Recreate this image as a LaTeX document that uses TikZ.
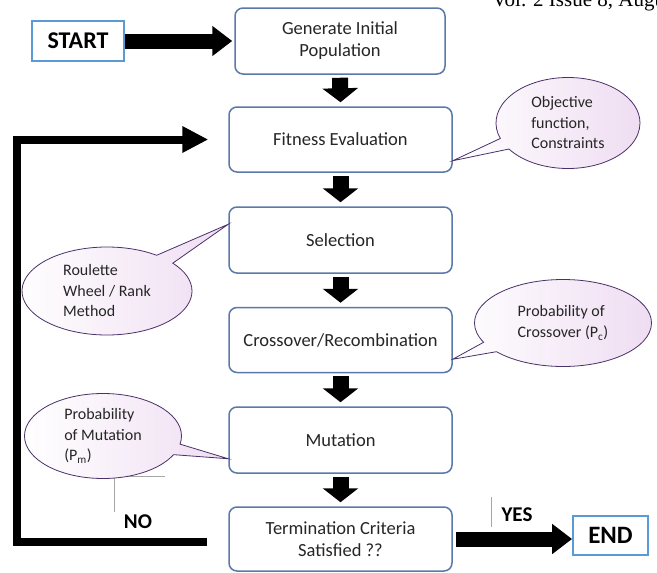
\documentclass[tikz,border=0pt]{standalone}
\usepackage{fontspec}
\setmainfont{Carlito}
\newfontfamily\timesf{Liberation Serif}
\usetikzlibrary{shapes.callouts,arrows.meta,calc}
\definecolor{boxblue}{HTML}{5A78A8}
\definecolor{termblue}{HTML}{5B9BD5}
\definecolor{callpurple}{HTML}{4A3068}
\definecolor{calllav}{HTML}{EFDDF2}
\begin{document}
\begin{tikzpicture}[x=1pt,y=-1pt,
  stepbox/.style={draw=boxblue, line width=1.5pt, rounded corners=8pt, fill=white,
    minimum width=223pt, minimum height=66pt, text=black!85,
    font=\fontsize{18.5}{22}\selectfont, align=center, inner sep=0pt},
  termbox/.style={draw=termblue, line width=1.8pt, fill=white,
    font=\bfseries\fontsize{24}{26}\selectfont, inner sep=0pt},
  bubble/.style={ellipse callout, draw=callpurple, line width=0.8pt,
    left color=white, right color=calllav, text=black!85,
    font=\fontsize{16}{20.5}\selectfont, align=left, inner sep=0pt},
  fatdown/.style={line width=16pt, -{Triangle[length=14pt,width=35pt]}},
  fatright/.style={line width=15pt, -{Triangle[length=20pt,width=29pt]}},
  loopline/.style={line width=8pt, line join=miter, -{Triangle[length=26pt,width=25pt]}},
  faint/.style={draw=black!35, line width=0.8pt},
  lbl/.style={font=\bfseries\fontsize{21}{24}\selectfont, inner sep=0pt}
]
\useasboundingbox (0,0) rectangle (657,573);
\clip (0,0) rectangle (657,573);

% header text (cropped)
\node[anchor=base west, font=\timesf\fontsize{21}{24}\selectfont, inner sep=0pt] (vol) at (492,6.5) {Vol. 2 Issue 8, August};

% main boxes
\node[stepbox, minimum width=210pt] (gen) at (340,41) {Generate Initial\\Population};
\node[stepbox, minimum height=65pt] (fit) at (340.5,139.5) {Fitness Evaluation};
\node[stepbox] (sel) at (340.5,240) {Selection};
\node[stepbox, minimum height=65pt] (cro) at (340.5,340) {Crossover/Recombination};
\node[stepbox] (mut) at (340.5,440) {Mutation};
\node[stepbox, minimum height=64pt] (term) at (340.5,539) {Termination Criteria\\Satisfied ??};

% start / end
\node[termbox, minimum width=92pt, minimum height=40pt] (start) at (78,41) {START};
\node[termbox, minimum width=75pt, minimum height=39pt, font=\bfseries\fontsize{25}{27}\selectfont] (end) at (610.5,535.5) {END};

% arrows
\draw[fatright, shorten >=2pt] (start.east) -- (gen.west);
\draw[fatdown] ($(gen.south)+(0,3)$) -- ($(fit.north)+(0,-4)$);
\draw[fatdown] ($(fit.south)+(0,3)$) -- ($(sel.north)+(0,-4)$);
\draw[fatdown] ($(sel.south)+(0,3)$) -- ($(cro.north)+(0,-4)$);
\draw[fatdown] ($(cro.south)+(0,3)$) -- ($(mut.north)+(0,-4)$);
\draw[fatdown] ($(mut.south)+(0,3)$) -- ($(term.north)+(0,-4)$);
\coordinate (yesin) at (end.west |- term.east);
\draw[fatright] ($(term.east)+(3,0)$) -- (yesin);

% feedback loop
\coordinate (lp) at ($(term.west)+(-21,3)$);
\coordinate (fin) at ($(fit.west)+(-20,0)$);
\draw[loopline] (lp) -- ++(-190,0) |- (fin);

% labels
\node[lbl] (no) at (138,522) {NO};
\node[lbl] (yes) at (517,515) {YES};
\draw[faint] (114,477) -- (114,512);
\draw[faint] (118,476) -- (165,476);
\draw[faint] (491,497) -- (491,527);

% callouts
\coordinate (c1) at ($(fit.south east)+(0,-12)$);
\coordinate (c2) at ($(sel.north west)+(0,18)$);
\coordinate (c3) at ($(cro.south east)+(0,-14)$);
\coordinate (c4) at ($(mut.south west)+(0,-15)$);
\node[bubble, minimum width=144pt, minimum height=91pt, callout absolute pointer={(c1)}] (b1) at (568,123) {Objective\\function,\\Constraints};
\node[bubble, minimum width=170pt, minimum height=88pt, callout absolute pointer={(c2)}] (b2) at (107,291) {Roulette\\Wheel / Rank\\Method};
\node[bubble, minimum width=177pt, minimum height=87pt, callout absolute pointer={(c3)}] (b3) at (563,323) {Probability of\\Crossover (P\textsubscript{c})};
\node[bubble, minimum width=157pt, minimum height=85pt, callout absolute pointer={(c4)}] (b4) at (103,436) {Probability\\of Mutation\\(P\textsubscript{m})};
\end{tikzpicture}
\end{document}
